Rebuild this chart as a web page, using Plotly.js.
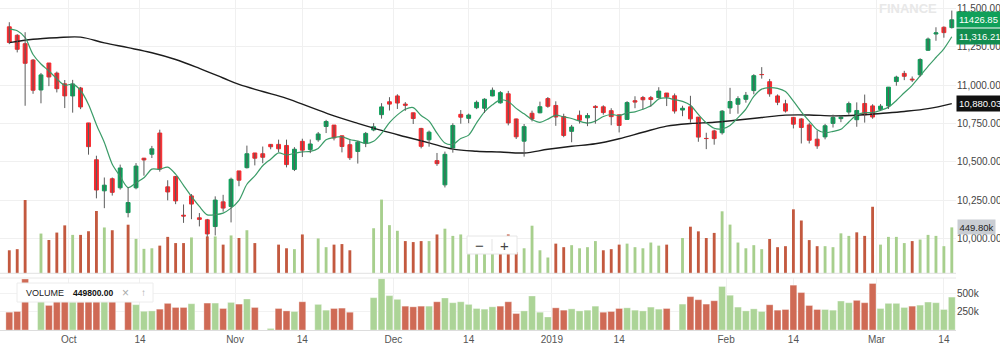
<!DOCTYPE html>
<html><head><meta charset="utf-8">
<script src="https://cdn.plot.ly/plotly-3.0.1.min.js"></script>
<style>html,body{margin:0;padding:0;background:#fff;overflow:hidden}#chart{width:1000px;height:357px}</style>
</head><body><div id="chart"></div>
<script>
// ---------- data ----------
const dates = ['2018-09-18','2018-09-19','2018-09-21','2018-09-24','2018-09-25','2018-09-26','2018-09-27','2018-09-28',
'2018-10-01','2018-10-03','2018-10-04','2018-10-05','2018-10-08','2018-10-09','2018-10-10','2018-10-11','2018-10-12','2018-10-15','2018-10-16','2018-10-17','2018-10-19','2018-10-22','2018-10-23','2018-10-24','2018-10-25','2018-10-26','2018-10-29','2018-10-30','2018-10-31',
'2018-11-01','2018-11-02','2018-11-05','2018-11-06','2018-11-07','2018-11-09','2018-11-12','2018-11-13','2018-11-14','2018-11-15','2018-11-16','2018-11-19','2018-11-20','2018-11-21','2018-11-22','2018-11-26','2018-11-27','2018-11-28','2018-11-29','2018-11-30',
'2018-12-03','2018-12-04','2018-12-05','2018-12-06','2018-12-07','2018-12-10','2018-12-11','2018-12-12','2018-12-13','2018-12-14','2018-12-17','2018-12-18','2018-12-19','2018-12-20','2018-12-21','2018-12-24','2018-12-26','2018-12-27','2018-12-28','2018-12-31',
'2019-01-02','2019-01-03','2019-01-04','2019-01-07','2019-01-08','2019-01-09','2019-01-10','2019-01-11','2019-01-14','2019-01-15','2019-01-16','2019-01-17','2019-01-18','2019-01-21','2019-01-22','2019-01-23','2019-01-24','2019-01-25','2019-01-28','2019-01-29','2019-01-30','2019-01-31',
'2019-02-01','2019-02-04','2019-02-05','2019-02-06','2019-02-07','2019-02-08','2019-02-11','2019-02-12','2019-02-14','2019-02-15','2019-02-18','2019-02-19','2019-02-20','2019-02-21','2019-02-22','2019-02-25','2019-02-26','2019-02-27','2019-02-28',
'2019-03-01','2019-03-05','2019-03-06','2019-03-07','2019-03-08','2019-03-11','2019-03-12','2019-03-13','2019-03-14','2019-03-15'];

const openP = [11381,11326,11271,11164,10969,11145,11079,11009,10930,10982,
10754,10514,10311,10390,10331,10169,10331,10524,10550,10688,
10337,10405,10152,10278,10135,10122,10078,10239,10209,10441,
10462,10558,10553,10614,10614,10607,10451,10634,10580,10644,
10731,10740,10670,10612,10568,10621,10708,10808,10892,10930,
10877,10820,10718,10644,10508,10350,10591,10810,10784,10853,
10850,10930,10885,10944,10780,10635,10817,10820,10913,10868,
10796,10699,10804,10787,10862,10859,10834,10807,10777,10899,
10920,10919,10919,10949,10931,10838,10859,10792,10653,10702,
10690,10852,10876,10908,10965,11070,11023,10930,10879,10790,
10780,10741,10648,10663,10751,10782,10825,10775,10881,10865,
10842,10865,11024,11077,11040,11068,11228,11334,11378,11376];

const highP = [11411,11333,11346,11171,11080,11145,11089,11034,11035,10989,
10754,10540,10398,10398,10482,10335,10492,10526,10604,10710,
10380,10408,10222,10290,10166,10128,10275,10285,10397,10441,
10606,10558,10600,10616,10645,10645,10596,10651,10646,10695,
10774,10740,10671,10646,10637,10695,10753,10883,10922,10941,
10890,10821,10722,10704,10558,10567,10752,10838,10815,10900,
10915,10985,10962,10963,10782,10747,10834,10893,10923,10895,
10814,10741,10835,10818,10870,10869,10850,10808,10896,10928,
10930,10930,10987,10949,10946,10866,10931,10792,10690,10710,
10838,10983,10928,10956,11072,11118,11041,10940,10905,10792,
10785,10753,10704,10748,10808,10801,10893,10888,10939,10876,
10877,10988,11062,11094,11057,11176,11311,11378,11384,11487];

const lowP = [11268,11214,10866,10944,10882,10994,10953,10851,10821,10844,
10547,10262,10198,10280,10319,10138,10321,10410,10525,10436,
10249,10224,10102,10126,10079,10004,10020,10175,10105,10341,
10457,10477,10491,10582,10564,10464,10440,10532,10557,10631,
10688,10640,10562,10512,10489,10596,10700,10782,10835,10845,
10833,10747,10588,10599,10474,10333,10560,10749,10752,10844,
10819,10928,10880,10738,10649,10534,10764,10817,10853,10735,
10661,10628,10750,10733,10749,10808,10739,10692,10777,10850,
10844,10860,10914,10864,10815,10798,10756,10631,10583,10612,
10678,10813,10814,10886,10941,11043,10925,10870,10822,10718,
10620,10620,10585,10647,10724,10759,10808,10729,10756,10781,
10836,10845,10997,11033,11021,11056,11224,11290,11310,11370];

const closeP = [11278.9,11234.35,11143.1,10967.4,11067.45,11053.8,10977.55,10930.45,11008.3,10858.25,
10599.25,10316.45,10348.05,10301.05,10460.1,10234.65,10472.5,10512.5,10584.75,10453.05,
10303.55,10245.25,10146.8,10224.75,10124.9,10030.0,10250.85,10198.4,10386.6,10380.45,
10553.0,10524.0,10530.0,10598.4,10585.2,10482.2,10582.5,10576.3,10616.7,10682.2,
10763.4,10656.2,10600.05,10526.75,10628.6,10685.6,10728.85,10858.7,10876.75,10883.75,
10869.5,10782.9,10601.15,10693.7,10488.45,10549.15,10737.6,10791.55,10805.45,10888.35,
10908.7,10967.3,10951.7,10754.0,10663.5,10729.85,10779.8,10859.9,10862.55,10792.5,
10672.25,10727.35,10771.8,10802.15,10855.15,10821.6,10794.95,10737.6,10886.8,10890.3,
10905.2,10906.95,10961.85,10922.75,10831.5,10849.8,10780.55,10661.55,10652.2,10651.8,
10830.95,10893.65,10912.25,10934.35,11062.45,11069.4,10943.6,10888.8,10831.4,10746.05,
10724.4,10640.95,10604.35,10735.45,10789.85,10791.65,10880.1,10835.3,10806.65,10792.5,
10863.5,10987.45,11053.0,11058.2,11035.4,11168.05,11301.2,11341.7,11343.25,11426.85];

const volume = [243000,253000,697000,0,394000,336000,403000,468000,382000,382000,
415000,598000,449000,424000,0,474000,346000,256000,261000,285000,
364000,308000,308000,359000,0,368000,368000,294000,377000,354000,
424000,308000,0,21000,294000,261000,253000,386000,0,350000,
271000,294000,299000,243000,0,0,442000,701000,470000,419000,
326000,317000,326000,326000,386000,438000,373000,386000,350000,294000,
285000,317000,326000,386000,225000,261000,465000,243000,178000,303000,
271000,289000,261000,271000,326000,243000,253000,294000,303000,271000,
261000,313000,285000,294000,0,354000,456000,414000,354000,400000,
595000,475000,313000,261000,289000,253000,345000,271000,280000,613000,
512000,335000,280000,280000,271000,396000,373000,405000,373000,636000,
294000,364000,364000,308000,326000,340000,382000,373000,280000,449800];

// short moving average (green line), one value per session
const maShort = [11365.85,11355.22,11309.86,11200.30,11138.24,11093.22,11041.86,10999.33,11007.51,10965.67,
10874.76,10742.54,10626.06,10484.61,10404.98,10332.06,10363.27,10396.16,10452.90,10451.49,
10465.27,10419.82,10346.68,10274.68,10209.05,10154.34,10155.46,10165.78,10198.15,10249.26,
10353.86,10408.49,10474.81,10517.17,10558.12,10543.96,10555.66,10564.92,10568.58,10587.98,
10644.22,10658.96,10663.71,10645.72,10635.00,10619.44,10633.97,10685.70,10755.70,10806.73,
10843.51,10854.32,10802.81,10766.20,10687.14,10623.07,10614.01,10652.09,10674.44,10754.42,
10826.33,10872.27,10904.30,10894.01,10849.04,10813.27,10775.77,10757.41,10779.12,10804.92,
10793.40,10782.91,10765.29,10753.21,10765.74,10795.61,10809.13,10802.29,10819.22,10826.25,
10842.97,10865.37,10910.22,10917.41,10905.65,10894.57,10869.29,10809.23,10755.12,10719.18,
10715.41,10738.03,10788.17,10844.60,10926.73,10974.42,10984.41,10979.72,10959.13,10895.85,
10826.85,10766.32,10709.43,10690.24,10699.00,10712.45,10760.28,10806.47,10820.71,10821.24,
10835.61,10857.08,10900.62,10950.93,10999.51,11060.42,11123.17,11180.91,11237.92,11316.21];

// long moving average (black line), read at sample sessions
const maLongDates = ['2018-09-18','2018-09-24','2018-09-27','2018-10-03','2018-10-08','2018-10-11','2018-10-16','2018-10-22','2018-10-25','2018-10-30',
'2018-11-01','2018-11-06','2018-11-12','2018-11-15','2018-11-20','2018-11-26','2018-11-29','2018-12-04','2018-12-07','2018-12-12',
'2018-12-17','2018-12-20','2018-12-26','2018-12-31','2019-01-04','2019-01-09','2019-01-14','2019-01-17','2019-01-22','2019-01-25',
'2019-01-30','2019-02-04','2019-02-07','2019-02-12','2019-02-18','2019-02-21','2019-02-26','2019-03-01','2019-03-07','2019-03-12','2019-03-15'];
const maLong = [11278,11300,11310,11314,11276,11245,11212,11168,11110,11047,
11005,10959,10914,10857,10800,10751,10705,10664,10624,10583,
10569,10564,10558,10582,10602,10618,10651,10693,10733,10750,
10758,10773,10789,10805,10806,10800,10804,10816,10829,10847,10880.03];

const tickDates = ['2018-10-01','2018-10-14','2018-11-01','2018-11-14','2018-12-01','2018-12-14','2019-01-01','2019-01-14','2019-02-01','2019-02-14','2019-03-01','2019-03-14'];
const tickLabels = ['Oct','14','Nov','14','Dec','14','2019','14','Feb','14','Mar','14'];
const priceTicks = [10000,10250,10500,10750,11000,11250,11500];
const volTicks = [250000,500000];
const volTickLabels = ['250k','500k'];

// ---------- styling ----------
const UP = '#0c9f59', DOWN = '#f7292e';
const VUP_O = '#a7cf8d', VDN_O = '#c3593f';
const VUP = '#acd497', VDN = '#cf6a55';
const FONT = 'Liberation Sans, Arial, Helvetica, sans-serif';
const W = 956, H = 330;
const px = x => x / W;
const py = y => (H - y) / H;

const idx = dates.map((d, i) => i);
const pos = d => dates.indexOf(d);
const bodyHi = openP.map((o, i) => Math.max(o, closeP[i]));
const bodyLo = openP.map((o, i) => Math.min(o, closeP[i]));
const volUp = closeP.map((c, i) => i > 0 ? c >= closeP[i - 1] : c >= openP[i]);

const wx = [], wy = [];
idx.forEach(i => { wx.push(i, i, null); wy.push(lowP[i], highP[i], null); });

const tickVals = tickDates.map((d, k) => {
  const e = dates.indexOf(d);
  if (tickLabels[k] === '14' && e >= 0) return e;
  return dates.findIndex(x => x >= d) - 0.5;
});

const last = dates.length - 1;
const fmt2 = v => v.toLocaleString('en-US', {minimumFractionDigits: 2, maximumFractionDigits: 2});

const traces = [
  {type: 'bar', x: idx, y: volume, xaxis: 'x', yaxis: 'y3', width: 0.36,
   marker: {color: volUp.map(u => u ? VUP_O : VDN_O), line: {width: 0}}, hoverinfo: 'skip'},
  {type: 'scatter', mode: 'lines', x: maLongDates.map(pos), y: maLong, xaxis: 'x', yaxis: 'y',
   line: {color: '#1c1c1c', width: 1.4, shape: 'spline', smoothing: 1}, hoverinfo: 'skip'},
  {type: 'scatter', mode: 'lines', x: idx, y: maShort, xaxis: 'x', yaxis: 'y',
   line: {color: '#3b9c68', width: 1.2, shape: 'spline', smoothing: 0.8}, hoverinfo: 'skip'},
  {type: 'scatter', mode: 'lines', x: wx, y: wy, xaxis: 'x', yaxis: 'y',
   line: {color: '#5c5c5c', width: 1}, hoverinfo: 'skip', connectgaps: false},
  {type: 'candlestick', x: idx, open: openP, close: closeP, high: bodyHi, low: bodyLo, xaxis: 'x', yaxis: 'y',
   whiskerwidth: 0,
   increasing: {line: {color: UP, width: 1}, fillcolor: UP},
   decreasing: {line: {color: DOWN, width: 1}, fillcolor: DOWN}, hoverinfo: 'skip'},
  {type: 'bar', x: idx, y: volume, xaxis: 'x', yaxis: 'y2', width: 0.86,
   marker: {color: volUp.map(u => u ? VUP : VDN), line: {color: 'rgba(255,255,255,0.55)', width: 0.6}}, hoverinfo: 'skip'}
];

function note(x, y, text, font, extra) {
  return Object.assign({xref: 'paper', yref: 'paper', x: px(x), y: py(y), text: text, showarrow: false,
    xanchor: 'center', yanchor: 'middle', font: font}, extra || {});
}

const layout = {
  width: 1000, height: 357,
  margin: {l: 0, r: 44, t: 0, b: 27, pad: 0},
  paper_bgcolor: '#ffffff', plot_bgcolor: '#ffffff',
  font: {family: FONT, size: 10, color: '#444'},
  showlegend: false, hovermode: false,
  barmode: 'overlay', boxgap: 0.3,
  xaxis: {
    type: 'linear', range: [-1.174, 119.53], domain: [0, 1], anchor: 'y2',
    tickvals: tickVals, ticktext: tickLabels, tickfont: {size: 10, color: '#555'},
    showgrid: true, gridcolor: '#f0f0f0', gridwidth: 1, zeroline: false,
    showline: true, linecolor: '#dddddd', linewidth: 1, ticks: '', ticklen: 0,
    rangeslider: {visible: false}, fixedrange: true, automargin: false
  },
  yaxis: {
    domain: [py(273.3), 1], range: [9773, 11556], side: 'right', anchor: 'x',
    tickvals: priceTicks, tickformat: ',.2f', tickfont: {size: 10, color: '#444'},
    showgrid: true, gridcolor: '#f0f0f0', zeroline: false, showline: false, ticks: '',
    automargin: false, fixedrange: true
  },
  yaxis2: {
    domain: [0, py(278)], range: [0, 711000], side: 'right', anchor: 'x',
    tickvals: volTicks, ticktext: volTickLabels, tickfont: {size: 10, color: '#444'},
    showgrid: true, gridcolor: '#f2f2f2', zeroline: false, showline: false, ticks: '',
    automargin: false, fixedrange: true
  },
  yaxis3: {
    overlaying: 'y', range: [35000, 2504000], visible: false, showgrid: false, zeroline: false, fixedrange: true
  },
  shapes: [
    {type: 'line', xref: 'paper', yref: 'paper', x0: 0, x1: 1, y0: py(273.3), y1: py(273.3), line: {color: '#e2e2e2', width: 1}},
    {type: 'line', xref: 'paper', yref: 'paper', x0: 0, x1: 1, y0: py(278), y1: py(278), line: {color: '#e8e8e8', width: 1}},
    {type: 'rect', xref: 'paper', yref: 'paper', x0: px(467), x1: px(517), y0: py(254), y1: py(236), fillcolor: '#ffffff', line: {color: '#e6e6e6', width: 1}, layer: 'above'},
    {type: 'line', xref: 'paper', yref: 'paper', x0: px(492), x1: px(492), y0: py(251), y1: py(239), line: {color: '#e3e3e3', width: 1}, layer: 'above'},
    {type: 'rect', xref: 'paper', yref: 'paper', x0: px(17), x1: px(153), y0: py(302), y1: py(283), fillcolor: '#ffffff', line: {color: '#ececec', width: 1}, layer: 'above'}
  ],
  annotations: [
    note(479.5, 245, '\u2212', {size: 15, color: '#444'}),
    note(504.5, 245, '+', {size: 15, color: '#444'}),
    note(24, 292.5, 'VOLUME', {size: 9, color: '#222'}, {xanchor: 'left'}),
    note(71, 292.5, '<b>' + volume[last].toFixed(2) + '</b>', {size: 8.5, color: '#111'}, {xanchor: 'left'}),
    note(125, 292.5, '\u00d7', {size: 12, color: '#aaa'}),
    note(143, 292.5, '\u2191', {size: 10, color: '#aaa'}),
    note(908, 8, '<b>FINANCE</b>', {size: 13, color: '#e8e8e8'}),
    {xref: 'paper', yref: 'y', x: 1, y: closeP[last], xanchor: 'left', yanchor: 'middle', text: closeP[last].toFixed(2), showarrow: false,
     bgcolor: '#10a05a', borderpad: 2, font: {size: 9.5, color: '#ffffff'}},
    {xref: 'paper', yref: 'y', x: 1, y: maShort[last], xanchor: 'left', yanchor: 'middle', text: fmt2(maShort[last]), showarrow: false,
     bgcolor: '#138d50', borderpad: 2, font: {size: 9.5, color: '#ffffff'}},
    {xref: 'paper', yref: 'y', x: 1, y: maLong[maLong.length - 1], xanchor: 'left', yanchor: 'middle', text: fmt2(maLong[maLong.length - 1]), showarrow: false,
     bgcolor: '#111111', borderpad: 2, font: {size: 9.5, color: '#ffffff'}},
    {xref: 'paper', yref: 'y3', x: 1, y: volume[last], xanchor: 'left', yanchor: 'middle', xshift: 1, text: (volume[last] / 1000).toFixed(2) + 'k', showarrow: false,
     bgcolor: '#c9cdd3', borderpad: 1.5, font: {size: 9.5, color: '#222'}}
  ]
};

Plotly.newPlot('chart', traces, layout, {staticPlot: true, displayModeBar: false});
</script>
</body></html>
